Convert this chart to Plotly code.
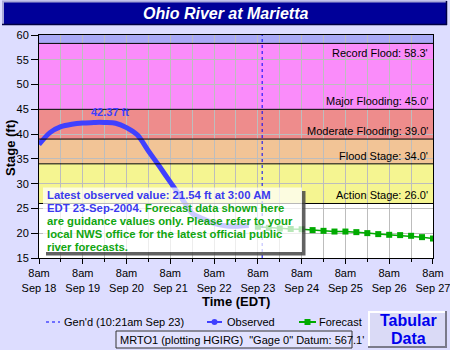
import plotly.graph_objects as go

# ---------------- data ----------------
obs_times = ["2004-09-18 08:00", "2004-09-18 14:00", "2004-09-18 20:00", "2004-09-19 02:00",
             "2004-09-19 08:00", "2004-09-19 14:00", "2004-09-19 17:00", "2004-09-19 20:00",
             "2004-09-20 02:00", "2004-09-20 08:00", "2004-09-20 14:00", "2004-09-20 20:00",
             "2004-09-21 02:00", "2004-09-21 08:00", "2004-09-21 14:00", "2004-09-21 20:00",
             "2004-09-22 02:00", "2004-09-22 08:00", "2004-09-22 14:00", "2004-09-22 20:00",
             "2004-09-23 03:00"]
obs_stage = [37.9, 40.3, 41.5, 42.0, 42.25, 42.33, 42.37, 42.33, 42.2, 41.3, 39.8, 36.6,
             33.5, 30.3, 27.2, 24.0, 22.9, 22.0, 21.5, 21.4, 21.54]

fc_times = ["2004-09-23 08:00", "2004-09-23 14:00", "2004-09-23 20:00", "2004-09-24 02:00",
            "2004-09-24 08:00", "2004-09-24 14:00", "2004-09-24 20:00", "2004-09-25 02:00",
            "2004-09-25 08:00", "2004-09-25 14:00", "2004-09-25 20:00", "2004-09-26 02:00",
            "2004-09-26 08:00", "2004-09-26 14:00", "2004-09-26 20:00", "2004-09-27 02:00",
            "2004-09-27 08:00"]
fc_stage = [21.3, 21.1, 20.95, 20.85, 20.8, 20.63, 20.48, 20.34, 20.34, 20.22, 20.02,
            19.82, 19.68, 19.62, 19.48, 19.21, 18.93]

thresh_names = ["Record Flood", "Major Flooding", "Moderate Flooding", "Flood Stage", "Action Stage"]
thresh_vals = [58.3, 45.0, 39.0, 34.0, 26.0]
band_colors = ["#A9A9F6", "#FA8CFA", "#EE8C8C", "#F2C496", "#F5F591"]

tick_vals = ["2004-09-18 08:00", "2004-09-19 08:00", "2004-09-20 08:00", "2004-09-21 08:00",
             "2004-09-22 08:00", "2004-09-23 08:00", "2004-09-24 08:00", "2004-09-25 08:00",
             "2004-09-26 08:00", "2004-09-27 08:00"]
tick_text = ["8am<br>Sep 18", "8am<br>Sep 19", "8am<br>Sep 20", "8am<br>Sep 21", "8am<br>Sep 22",
             "8am<br>Sep 23", "8am<br>Sep 24", "8am<br>Sep 25", "8am<br>Sep 26", "8am<br>Sep 27"]
x_range = ["2004-09-18 08:00", "2004-09-27 08:01"]
gen_time = "2004-09-23 10:21"
y_range = [15, 60]

# ---------------- layout helpers ----------------
W, H = 450, 350
L, R, T, B = 39, 17, 35, 92
FONT = "Liberation Sans, Arial, sans-serif"
BG = "#DDDDFF"
OBS_C = "#4040FF"
FC_C = "#00AA00"
TXT_BLUE = "#3A3AEE"
TXT_GREEN = "#11A611"


def px(x):
    return (x - L) / (W - L - R)


def py(y):
    return (H - B - y) / (H - T - B)


def note(x, y, text, size=11, color="black", xanchor="center", yanchor="middle", **kw):
    return dict(xref="paper", yref="paper", x=px(x), y=py(y), xanchor=xanchor, yanchor=yanchor,
                showarrow=False, text=text, font=dict(family=FONT, size=size, color=color), **kw)


def prect(x0, y0, x1, y1, fill, line=None):
    return dict(type="rect", xref="paper", yref="paper", x0=px(x0), x1=px(x1), y0=py(y1), y1=py(y0),
                fillcolor=fill, line=line or dict(width=0), layer="above")


def pline(x0, y0, x1, y1, color, width=1, dash="solid"):
    return dict(type="line", xref="paper", yref="paper", x0=px(x0), x1=px(x1), y0=py(y0), y1=py(y1),
                line=dict(color=color, width=width, dash=dash), layer="above")


fig = go.Figure()

fig.add_trace(go.Scatter(x=obs_times, y=obs_stage, mode="lines",
                         line=dict(color=OBS_C, width=5, shape="spline", smoothing=0.8),
                         showlegend=False, hoverinfo="skip"))
fig.add_trace(go.Scatter(x=fc_times, y=fc_stage, mode="lines+markers",
                         line=dict(color=FC_C, width=1.5),
                         marker=dict(symbol="square", size=6, color=FC_C),
                         showlegend=False, hoverinfo="skip"))

shapes = []
annos = []

# flood bands
tops = [y_range[1]] + thresh_vals[:-1]
for top, bot, col in zip(tops, thresh_vals, band_colors):
    shapes.append(dict(type="rect", xref="paper", yref="y", x0=0, x1=1, y0=bot, y1=top,
                       fillcolor=col, line=dict(width=0), layer="below"))
for name, v in zip(thresh_names, thresh_vals):
    shapes.append(dict(type="line", xref="paper", yref="y", x0=0, x1=1, y0=v, y1=v,
                       line=dict(color="black", width=1), layer="above"))
    top_label = (v == max(thresh_vals))
    annos.append(dict(xref="paper", yref="y", x=1, y=v, xanchor="right",
                      yanchor="top" if top_label else "bottom",
                      xshift=-3, yshift=-2 if top_label else 0, showarrow=False,
                      text=f"{name}: {v:.1f}'", font=dict(family=FONT, size=11, color="black")))

# generated-time line
shapes.append(dict(type="line", xref="x", yref="paper", x0=gen_time, x1=gen_time, y0=0, y1=1,
                   line=dict(color="#0000FF", width=1, dash="dot"), layer="above"))

# peak label
pk = max(obs_stage)
pk_t = obs_times[obs_stage.index(pk)]
annos.append(dict(x=pk_t, y=pk, xref="x", yref="y", text=f"<b>{pk:.2f} ft</b>", showarrow=False,
                  xanchor="center", yanchor="middle",
                  xshift=11, yshift=10, font=dict(family=FONT, size=11, color=OBS_C)))

# info box
shapes.append(prect(302, 191, 305.5, 255.5, "rgba(70,70,70,0.85)"))
shapes.append(prect(46, 252, 302, 255.5, "rgba(70,70,70,0.85)"))
shapes.append(prect(43, 187.5, 302, 252, "rgba(255,255,255,0.72)"))
last = obs_stage[-1]
box_lines = [
    f'<span style="color:{TXT_BLUE}">Latest observed value: {last:.2f} ft at 3:00 AM</span>',
    f'<span style="color:{TXT_BLUE}">EDT 23-Sep-2004.</span> Forecast data shown here',
    "are guidance values only. Please refer to your",
    "local NWS office for the latest official public",
    "river forecasts.",
]
for i, t in enumerate(box_lines):
    annos.append(note(45, 195 + 13 * i, f"<b>{t}</b>", size=11.3, color=TXT_GREEN, xanchor="left"))

# title bar
shapes.append(prect(2, 1, 447, 25, "#000099"))
shapes.append(pline(2, 1.5, 447, 1.5, "#A8A8D8", 2))
shapes.append(pline(3, 1, 3, 25, "#A8A8D8", 2))
shapes.append(pline(2, 24.5, 447, 24.5, "#000044", 1.5))
shapes.append(pline(446.5, 1, 446.5, 25, "#000044", 1.5))
annos.append(note(225, 13.5, "<b><i>Ohio River at Marietta</i></b>", size=16, color="white"))

# axis titles
annos.append(note(236, 301, "<b>Time (EDT)</b>", size=13))
annos.append(note(10, 148, "<b>Stage (ft)</b>", size=13, textangle=-90))

# legend
LY = 322
shapes.append(pline(46, LY, 60, LY, "#0000FF", 1, "dot"))
annos.append(note(62, LY, "Gen'd (10:21am Sep 23)", xanchor="left"))
shapes.append(pline(207, LY, 222, LY, OBS_C, 2))
shapes.append(dict(type="circle", xref="paper", yref="paper", x0=px(211.5), x1=px(217.5),
                   y0=py(LY + 3), y1=py(LY - 3), fillcolor=OBS_C, line=dict(width=0), layer="above"))
annos.append(note(225, LY, "Observed", xanchor="left"))
shapes.append(pline(299, LY, 316, LY, FC_C, 2))
shapes.append(prect(304.5, LY - 3, 310.5, LY + 3, FC_C))
annos.append(note(317, LY, "Forecast", xanchor="left"))

# station box
shapes.append(prect(116, 331, 352, 348, "#E2E2FF", dict(color="#333333", width=1)))
annos.append(note(118, 339.5, "MRTO1 (plotting HGIRG)\u00a0\u00a0\"Gage 0\" Datum: 567.1'", xanchor="left"))

# tabular data button
shapes.append(prect(368, 311, 447, 348, "#DADAF6"))
shapes.append(pline(368, 312, 447, 312, "white", 2))
shapes.append(pline(369, 311, 369, 348, "white", 2))
shapes.append(pline(368, 347, 447, 347, "#7A7A8A", 2))
shapes.append(pline(446, 311, 446, 348, "#7A7A8A", 2))
annos.append(note(408, 320.5, "<b>Tabular</b>", size=16, color="#0000EE"))
annos.append(note(408, 338.5, "<b>Data</b>", size=16, color="#0000EE"))

fig.update_layout(
    width=W, height=H, margin=dict(l=L, r=R, t=T, b=B, pad=0, autoexpand=False),
    paper_bgcolor=BG, plot_bgcolor="white",
    font=dict(family=FONT, size=11, color="black"),
    shapes=shapes, annotations=annos, showlegend=False,
)
fig.update_xaxes(range=x_range, tickmode="array", tickvals=tick_vals,
                 ticktext=tick_text, ticks="outside", ticklen=5, tickcolor="black",
                 ticklabeloverflow="allow", automargin=False,
                 showgrid=True, gridcolor="#BDBDBD", gridwidth=1,
                 showline=True, linecolor="black", linewidth=1, mirror=True, zeroline=False,
                 tickfont=dict(family=FONT, size=11, color="black"),
                 minor=dict(dtick=12 * 3600 * 1000, tick0=tick_vals[0], ticks="outside", ticklen=3,
                            tickcolor="black", showgrid=True, gridcolor="#BDBDBD", gridwidth=1))
fig.update_yaxes(range=y_range, dtick=5, tick0=15, ticks="outside", ticklen=7, tickcolor="black",
                 automargin=False,
                 showgrid=True, gridcolor="#BDBDBD", gridwidth=1,
                 showline=True, linecolor="black", linewidth=1, mirror=True, zeroline=False,
                 tickfont=dict(family=FONT, size=11, color="black"))

fig.write_html("out.html")
